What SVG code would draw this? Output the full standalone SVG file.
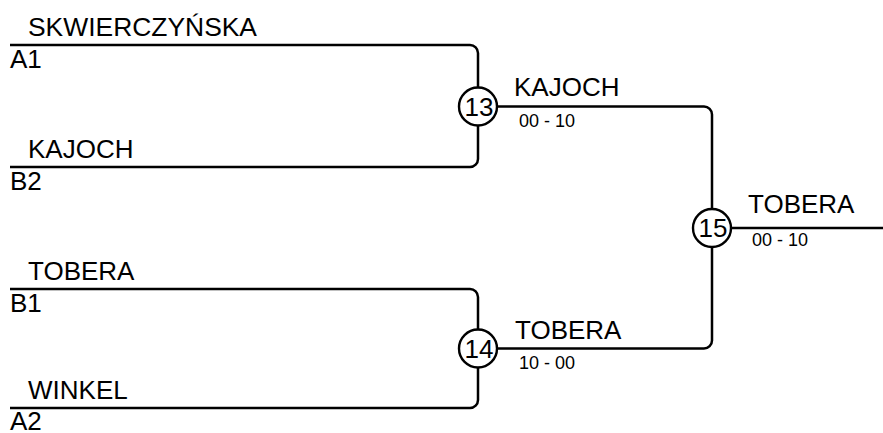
<svg xmlns="http://www.w3.org/2000/svg" width="883" height="433" viewBox="0 0 883 433">
<style>
.ln{fill:none;stroke:#000;stroke-width:2.5}
.nd{fill:#fff;stroke:#000;stroke-width:2.4}
.t{font-family:"Liberation Sans",Arial,Helvetica,sans-serif;font-size:26px;fill:#000}
.s{font-family:"Liberation Sans",Arial,Helvetica,sans-serif;font-size:18px;fill:#000}
.n{font-family:"Liberation Sans",Arial,Helvetica,sans-serif;font-size:26px;fill:#000;text-anchor:middle}
</style>
<rect width="883" height="433" fill="#fff"/>
<g id="connectors">
<path class="ln" d="M10 45 H470 A8 8 0 0 1 478 53 V159 A8 8 0 0 1 470 167 H10"/>
<path class="ln" d="M10 289 H470 A8 8 0 0 1 478 297 V400 A8 8 0 0 1 470 408 H10"/>
<path class="ln" d="M478 106.5 H704 A8 8 0 0 1 712 114.5 V340.5 A8 8 0 0 1 704 348.5 H478"/>
<path class="ln" d="M712 228 H883"/>
</g>
<g id="slot-a1"><text class="t" x="28" y="36" textLength="229" lengthAdjust="spacingAndGlyphs">SKWIERCZYŃSKA</text><text class="t" x="10" y="68">A1</text></g>
<g id="slot-b2"><text class="t" x="28" y="158">KAJOCH</text><text class="t" x="10" y="190">B2</text></g>
<g id="slot-b1"><text class="t" x="28" y="280">TOBERA</text><text class="t" x="10" y="312">B1</text></g>
<g id="slot-a2"><text class="t" x="28" y="399">WINKEL</text><text class="t" x="10" y="430">A2</text></g>
<g id="match-13"><circle class="nd" cx="478" cy="106.5" r="19"/><text class="n" x="479" y="115.5">13</text><text class="t" x="514" y="96">KAJOCH</text><text class="s" x="519" y="126.5">00 - 10</text></g>
<g id="match-14"><circle class="nd" cx="478" cy="348.5" r="19"/><text class="n" x="479" y="357.5">14</text><text class="t" x="515" y="339">TOBERA</text><text class="s" x="519" y="369">10 - 00</text></g>
<g id="match-15"><circle class="nd" cx="712" cy="228" r="19"/><text class="n" x="713" y="237">15</text><text class="t" x="748" y="213">TOBERA</text><text class="s" x="752" y="246">00 - 10</text></g>
</svg>
